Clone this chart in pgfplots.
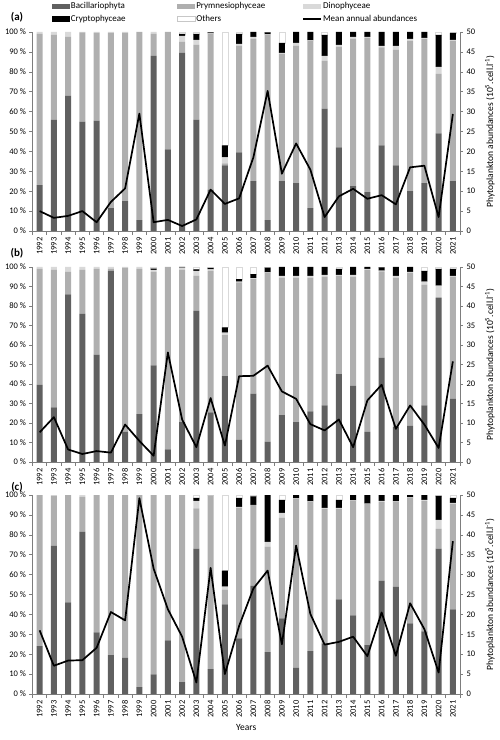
\documentclass[border=0pt]{standalone}
\usepackage{pgfplots}
\pgfplotsset{compat=1.18}
\usepackage{pgfplotstable}
\usepackage{fontspec}
\setmainfont{Carlito}
\definecolor{cBac}{RGB}{96,96,96}
\definecolor{cPry}{RGB}{175,175,175}
\definecolor{cDin}{RGB}{217,217,217}
\definecolor{cAx}{RGB}{125,125,125}

\pgfplotstableread{
i B P D C O M
0 23 76 1 0 0 5.0
1 56 42.5 1.5 0 0 3.3
2 68 29.5 2.5 0 0 3.8
3 55 44.8 0.2 0 0 5.0
4 55.5 44 0.5 0 0 2.2
5 11.5 88 0.5 0 0 7.3
6 15 84.5 0.5 0 0 10.7
7 5.5 94.5 0 0 0 29.5
8 88 11 1 0 0 2.2
9 41 59 0 0 0 2.8
10 89.5 5.5 3 1 1 1.25
11 56 37.5 2.5 3 1 2.9
12 20.8 78.2 0.3 0.5 0.2 10.4
13 33 1 3 6 57 6.8
14 39.5 53.5 1 5 1 8.2
15 25 71.5 1 2.5 0 18.5
16 5.5 93 0.3 1 0.2 35.2
17 25 64 0.5 5 5.5 14.4
18 24 69 1.5 5.5 0 22.0
19 11.5 84 0.3 4.2 0 15.4
20 61.5 24 2.5 10.5 1.5 3.5
21 42 50.5 1 6.5 0 8.7
22 22.5 74 1 2.5 0 10.6
23 19.5 77.5 0.5 2.5 0 8.1
24 43 49.3 0.7 7 0 9.0
25 33 58 2 7 0 6.7
26 20 75.5 1 3.5 0 16.0
27 24 72.5 0.5 3 0 16.4
28 49 30 3.5 16 1.5 3.5
29 25 70.5 0.5 3.5 0.5 29.4
}\ta

\pgfplotstableread{
i B P D C O M
0 39.5 59.5 1 0 0 7.6
1 28 70.5 1.5 0 0 11.5
2 86 11.5 2.5 0 0 3.2
3 76 22.5 1.5 0 0 2.05
4 55 44 1 0 0 2.8
5 98 1 1 0 0 2.4
6 15.5 84 0.5 0 0 9.6
7 24.5 74.5 1 0 0 5.4
8 49.5 48 1 0.7 0.8 1.6
9 6.5 93.5 0 0 0 28.1
10 20.5 78.2 1 0.3 0 10.9
11 77.5 18 2.5 0.8 1.2 3.8
12 25.5 72.5 0.8 0.7 0.5 16.4
13 44 21 1.3 2.7 31 4.2
14 11.5 80.6 0.4 1.3 6.2 22.0
15 35 58.8 0.5 2.1 3.6 22.1
16 10.5 86.5 0.3 2.4 0.3 24.7
17 24 70.5 1 4.5 0 18.1
18 20.5 74 1 4.5 0 16.2
19 26 68.5 1 4.5 0 9.7
20 29 66 1 4 0 8.1
21 45 50.5 0.5 3 1 10.9
22 39 56 1 4 0 3.8
23 15.5 83 0.5 1 0 15.8
24 53.5 44.3 0.3 1.7 0.2 19.8
25 18 76.5 1 4.5 0 8.5
26 18.5 78.5 0.5 2.5 0 14.5
27 29 62 1.5 5.5 2 9.6
28 84 0.5 6 8.5 1 3.6
29 32.5 62.5 0.5 3.5 1 25.8
}\tb

\pgfplotstableread{
i B P D C O M
0 24 76 0 0 0 16.0
1 74.5 25 0.5 0 0 7.1
2 46 54 0 0 0 8.4
3 81.5 17.5 1 0 0 8.5
4 31 69 0 0 0 11.6
5 19.5 80.5 0 0 0 20.6
6 18.3 81.7 0 0 0 18.5
7 3.5 96.5 0 0 0 49.2
8 9.8 90.2 0 0 0 31.5
9 27 73 0 0 0 21.3
10 6 94 0 0 0 14.4
11 73 20.3 3.7 1.5 1.5 2.9
12 12.5 87 0.3 0.2 0 31.7
13 45 7.5 1.5 8 38 5.0
14 28 65.5 0.5 4.5 1.5 17.1
15 54.5 40.6 0 4.2 0.7 26.5
16 21 53 2.5 23.5 0 31.0
17 38 50.5 2.5 6.5 2.5 12.5
18 13.3 84.7 0.3 1.7 0 37.3
19 21.5 75 0.3 3.2 0 20.1
20 25.5 67.5 0.5 6.5 0 12.4
21 47.5 45.5 0.5 4 2.5 13.1
22 39.5 57.5 0.3 2.7 0 14.4
23 24.5 71 0.2 4.3 0 9.5
24 57 39.5 0.5 3 0 20.5
25 54 42.5 0.3 3.2 0 9.6
26 35.5 63 0.3 1.2 0 22.8
27 31.5 65.5 0.5 2.5 0 16.3
28 73 10 4.5 12 0.5 5.4
29 42.5 53 0.5 2.5 1.5 38.4
}\tc

\pgfplotsset{
  base/.style={scale only axis, width=427.5pt, xmin=-0.5, xmax=29.5, anchor=south west,
    tick label style={font=\fontsize{8.5}{10}\selectfont},
    axis line style={cAx,-}, tick style={cAx, line width=0.5pt},
    tick align=outside, major tick length=3pt, minor tick length=4pt},
  prim/.style={base, ybar stacked, bar width=0.42, ymin=0, ymax=100,
    axis x line*=bottom, axis y line*=left,
    ytick={0,10,...,100},
    yticklabels={0 \%,10 \%,20 \%,30 \%,40 \%,50 \%,60 \%,70 \%,80 \%,90 \%,100 \%},
    xtick={0,...,29},
    xticklabels={1992,1993,1994,1995,1996,1997,1998,1999,2000,2001,2002,2003,2004,2005,2006,2007,2008,2009,2010,2011,2012,2013,2014,2015,2016,2017,2018,2019,2020,2021},
    x tick label style={rotate=90, anchor=east},
    major x tick style={draw=none},
    minor xtick={-0.5,0.5,...,29.5}},
  sec/.style={base, ymin=0, ymax=50, axis y line*=right, axis x line=none,
    ytick={0,5,...,50},
    yticklabels={0,5,10,15,20,25,30,35,40,45,50},
    ylabel={Phytoplankton abundances (10\textsuperscript{5}.cell.l\textsuperscript{-1})},
    ylabel shift=3pt,
    ylabel style={font=\fontsize{9.5}{11}\selectfont}},
  sB/.style={fill=cBac, draw=none},
  sP/.style={fill=cPry, draw=none},
  sD/.style={fill=cDin, draw=none},
  sC/.style={fill=black, draw=none},
  sO/.style={fill=white, draw=cDin, line width=0.4pt},
  sM/.style={black, line width=1.7pt, mark=none, line join=round},
}

\begin{document}
\begin{tikzpicture}
\useasboundingbox (0,0) rectangle (500pt,740pt);

% ---------- (a)
\begin{axis}[prim, at={(32.5pt,509pt)}, height=199pt,
  legend columns=3,
  legend cell align=left,
  legend style={at={(axis description cs:0.045,1.155)}, anchor=north west, draw=none, fill=none,
    inner sep=0pt, font=\fontsize{9}{10}\selectfont, row sep=3pt,
    nodes={inner sep=1pt}}]
\addplot[sB, legend image code/.code={\fill[cBac] (0pt,-2.6pt) rectangle (18pt,2.6pt);}] table[x=i,y=B]{\ta};
\addlegendentry{\makebox[105pt][l]{Bacillariophyta}}
\addplot[sP, legend image code/.code={\fill[cPry] (0pt,-2.6pt) rectangle (18pt,2.6pt);}] table[x=i,y=P]{\ta};
\addlegendentry{\makebox[105pt][l]{Prymnesiophyceae}}
\addplot[sD, legend image code/.code={\fill[cDin] (0pt,-2.6pt) rectangle (18pt,2.6pt);}] table[x=i,y=D]{\ta};
\addlegendentry{Dinophyceae}
\addplot[sC, legend image code/.code={\fill[black] (0pt,-2.6pt) rectangle (18pt,2.6pt);}] table[x=i,y=C]{\ta};
\addlegendentry{\makebox[105pt][l]{Cryptophyceae}}
\addplot[sO, legend image code/.code={\filldraw[fill=white,draw=cDin!80!gray,line width=0.4pt] (0pt,-2.6pt) rectangle (18pt,2.6pt);}] table[x=i,y=O]{\ta};
\addlegendentry{\makebox[105pt][l]{Others}}
\addlegendimage{legend image code/.code={\draw[black,line width=1.7pt] (0pt,0pt) -- (18pt,0pt);}}
\addlegendentry{Mean annual abundances}
\end{axis}
\begin{axis}[sec, at={(32.5pt,509pt)}, height=199pt]
\addplot[sM] table[x=i,y=M]{\ta};
\end{axis}

% ---------- (b)
\begin{axis}[prim, at={(32.5pt,278pt)}, height=195pt]
\addplot[sB] table[x=i,y=B]{\tb};
\addplot[sP] table[x=i,y=P]{\tb};
\addplot[sD] table[x=i,y=D]{\tb};
\addplot[sC] table[x=i,y=C]{\tb};
\addplot[sO] table[x=i,y=O]{\tb};
\end{axis}
\begin{axis}[sec, at={(32.5pt,278pt)}, height=195pt]
\addplot[sM] table[x=i,y=M]{\tb};
\end{axis}

% ---------- (c)
\begin{axis}[prim, at={(32.5pt,46pt)}, height=199pt, xlabel={Years},
  xlabel style={font=\fontsize{9.5}{11}\selectfont}]
\addplot[sB] table[x=i,y=B]{\tc};
\addplot[sP] table[x=i,y=P]{\tc};
\addplot[sD] table[x=i,y=D]{\tc};
\addplot[sC] table[x=i,y=C]{\tc};
\addplot[sO] table[x=i,y=O]{\tc};
\end{axis}
\begin{axis}[sec, at={(32.5pt,46pt)}, height=199pt]
\addplot[sM] table[x=i,y=M]{\tc};
\end{axis}

\node[font=\bfseries\fontsize{11}{12}\selectfont] at (17pt,723pt) {(a)};
\node[font=\bfseries\fontsize{11}{12}\selectfont] at (17pt,487pt) {(b)};
\node[font=\bfseries\fontsize{11}{12}\selectfont] at (17pt,253pt) {(c)};
\end{tikzpicture}
\end{document}
